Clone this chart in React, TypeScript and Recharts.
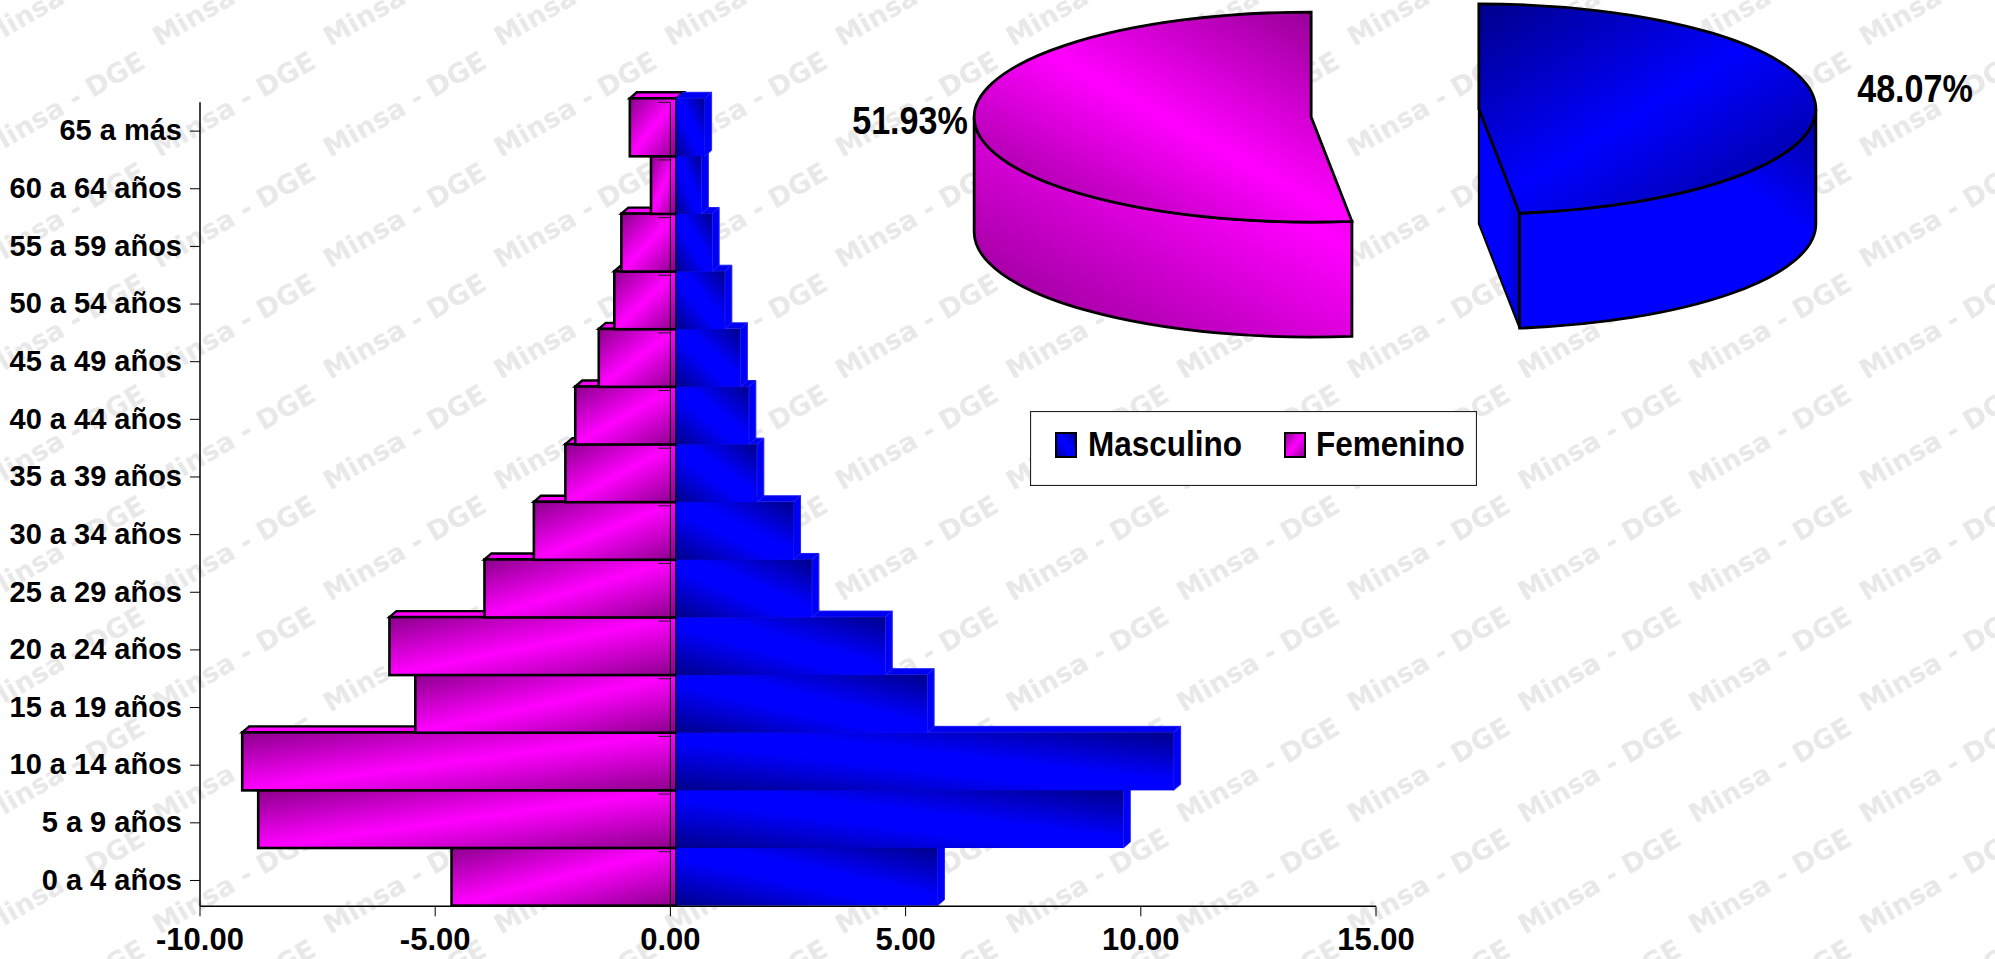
import React from 'react';
import {
  BarChart,
  Bar,
  XAxis,
  YAxis,
  Legend,
  ReferenceLine,
  ReferenceDot,
  PieChart,
  Pie,
} from 'recharts';

const WIDTH = 1995;
const HEIGHT = 959;
const FONT = '"Liberation Sans", Arial, sans-serif';

const ageGroups = [
  '0 a 4 años', '5 a 9 años', '10 a 14 años', '15 a 19 años', '20 a 24 años',
  '25 a 29 años', '30 a 34 años', '35 a 39 años', '40 a 44 años', '45 a 49 años',
  '50 a 54 años', '55 a 59 años', '60 a 64 años', '65 a más',
];
const masculino = [5.55, 9.5, 10.57, 5.33, 4.44, 2.88, 2.49, 1.71, 1.54, 1.36, 1.03, 0.76, 0.53, 0.6];
const femenino = [-4.78, -8.89, -9.23, -5.55, -6.1, -4.08, -3.03, -2.36, -2.15, -1.65, -1.32, -1.17, -0.54, -0.99];
const xTicks = [-10, -5, 0, 5, 10, 15];
const sexNames = ['Masculino', 'Femenino'];
const sexShares = [48.07, 51.93];

const pyramidData = ageGroups.map((age, i) => ({
  age,
  Masculino: masculino[i],
  Femenino: femenino[i],
}));
const pieData = sexNames.map((name, i) => ({ name, value: sexShares[i] }));

// fake 3D settings, the source is an old Excel chart
const FRONT_DX = 6;
const FRONT_DY = -4;
const DEPTH_X = 7;
const DEPTH_Y = -6;
const PIE_SQUASH = 105 / 337;
const PIE_DEPTH = 115;
const PIE_EXPLODE = 84;
const ZERO_TICK_UP = 28.8;
const NARROW = 0.875;

const pieLabelSpots: Record<string, { dx: number; dy: number }> = {
  Masculino: { dx: 520, dy: -24 },
  Femenino: { dx: -485, dy: 8 },
};
const legendSpots: Record<string, { swatch: number; text: number }> = {
  Masculino: { swatch: 26, text: 58 },
  Femenino: { swatch: 255, text: 286 },
};

const Bar3D = (props: any) => {
  const { x, y, width, height, side } = props;
  const left = Math.min(x, x + width) + FRONT_DX;
  const w = Math.abs(width);
  const top = y + FRONT_DY;
  const h = height;
  const pink = side === 'f';
  const topFace = `${left},${top} ${left + DEPTH_X},${top + DEPTH_Y} ${left + w + DEPTH_X},${top + DEPTH_Y} ${left + w},${top}`;
  const rightFace = `${left + w},${top} ${left + w + DEPTH_X},${top + DEPTH_Y} ${left + w + DEPTH_X},${top + h + DEPTH_Y} ${left + w},${top + h}`;
  if (pink) {
    return (
      <g>
        <polygon points={topFace} fill="#ff00ff" stroke="#000" strokeWidth={2.4} />
        <rect x={left} y={top} width={w} height={h} fill="url(#barPink)" stroke="#000" strokeWidth={2.6} />
      </g>
    );
  }
  return (
    <g>
      <polygon points={topFace} fill="#0000f0" stroke="#1a1aff" strokeWidth={1} />
      <polygon points={rightFace} fill="#0000f5" stroke="#2222ff" strokeWidth={1} />
      <rect x={left} y={top} width={w} height={h} fill="url(#barBlue)" />
    </g>
  );
};

const ZeroTick = (props: any) => {
  const { cx, cy } = props;
  return <line x1={cx - 12} x2={cx} y1={cy - ZERO_TICK_UP} y2={cy - ZERO_TICK_UP} stroke="#222" strokeWidth={1} />;
};

const Pie3D = (props: any) => {
  const { cx, cy, outerRadius, startAngle, endAngle, name } = props;
  const rad = Math.PI / 180;
  const mid = (startAngle + endAngle) / 2;
  const ox = cx + PIE_EXPLODE * Math.cos(mid * rad);
  const oy = cy - 0.8 * PIE_EXPLODE * Math.sin(mid * rad);
  const rx = outerRadius;
  const ry = outerRadius * PIE_SQUASH;
  const px = (a: number) => ox + rx * Math.cos(a * rad);
  const py = (a: number) => oy - ry * Math.sin(a * rad);
  const large = Math.abs(endAngle - startAngle) > 180 ? 1 : 0;
  const topPath = `M${ox},${oy} L${px(startAngle)},${py(startAngle)} A${rx},${ry} 0 ${large} 1 ${px(endAngle)},${py(endAngle)} Z`;
  // only the front half of the rim can be seen
  const hi = Math.min(startAngle, 0);
  const lo = Math.max(endAngle, -180);
  const sidePath = `M${px(hi)},${py(hi)} A${rx},${ry} 0 0 1 ${px(lo)},${py(lo)} L${px(lo)},${py(lo) + PIE_DEPTH} A${rx},${ry} 0 0 0 ${px(hi)},${py(hi) + PIE_DEPTH} Z`;
  const blue = name === 'Masculino';
  return (
    <g>
      {blue && (
        <polygon
          points={`${ox},${oy} ${px(endAngle)},${py(endAngle)} ${px(endAngle)},${py(endAngle) + PIE_DEPTH} ${ox},${oy + PIE_DEPTH}`}
          fill="url(#wallBlue)"
          stroke="#000"
          strokeWidth={2}
        />
      )}
      <path d={sidePath} fill={blue ? 'url(#sideBlue)' : 'url(#sidePink)'} stroke="#000" strokeWidth={2.8} />
      <path d={topPath} fill={blue ? 'url(#topBlue)' : 'url(#topPink)'} stroke="#000" strokeWidth={2.8} />
    </g>
  );
};

const PieLabel = (props: any) => {
  const { cx, cy, name, value } = props;
  const spot = pieLabelSpots[name];
  return (
    <text
      transform={`translate(${cx + spot.dx},${cy + spot.dy}) scale(${NARROW},1)`}
      textAnchor="middle"
      dominantBaseline="central"
      fontFamily={FONT}
      fontWeight="bold"
      fontSize={39}
      fill="#000"
    >
      {`${value.toFixed(2)}%`}
    </text>
  );
};

const LegendBox = (props: any) => (
  <svg width={447} height={75} style={{ display: 'block' }}>
    <rect x={0.5} y={0.5} width={446} height={74} fill="#fff" stroke="#222" strokeWidth={1.2} />
    {(props.payload || []).map((entry: any) => {
      const spot = legendSpots[entry.value];
      return (
        <g key={entry.value}>
          <rect
            x={spot.swatch}
            y={22}
            width={20}
            height={24}
            fill={entry.value === 'Masculino' ? 'url(#barBlue)' : 'url(#barPink)'}
            stroke="#000"
            strokeWidth={2}
          />
          <text
            transform={`translate(${spot.text},45) scale(${NARROW},1)`}
            fontFamily={FONT}
            fontWeight="bold"
            fontSize={36}
            fill="#000"
          >
            {entry.value}
          </text>
        </g>
      );
    })}
  </svg>
);

const Watermark = () => (
  <svg width={WIDTH} height={HEIGHT} style={{ position: 'absolute', left: 0, top: 0 }}>
    <defs>
      <pattern id="minsaTile" x={151.6} y={45} width={170.67} height={111} patternUnits="userSpaceOnUse">
        <text
          x={8}
          y={113}
          transform="rotate(-30 8 113)"
          fontFamily='"DejaVu Sans", sans-serif'
          fontWeight="bold"
          fontSize={27}
          fill="#e8e8e8"
        >
          Minsa - DGE
        </text>
      </pattern>
    </defs>
    <rect width={WIDTH} height={HEIGHT} fill="url(#minsaTile)" />
  </svg>
);

const grad = (id: string, x1: number, y1: number, x2: number, y2: number, stops: [number, string][]) => (
  <linearGradient id={id} x1={x1} y1={y1} x2={x2} y2={y2}>
    {stops.map(([o, c]) => (
      <stop key={o} offset={o} stopColor={c} />
    ))}
  </linearGradient>
);

const axisTick = { fill: '#000', fontFamily: FONT, fontWeight: 'bold' as const };

export default function App() {
  return (
    <div style={{ position: 'absolute', left: 0, top: 0, width: WIDTH, height: HEIGHT, background: '#fff', overflow: 'hidden' }}>
      <Watermark />

      <div style={{ position: 'absolute', left: 0, top: 0 }}>
        <BarChart
          width={WIDTH}
          height={HEIGHT}
          data={pyramidData}
          layout="vertical"
          stackOffset="sign"
          barCategoryGap={0}
          margin={{ top: 102.3, right: 619, bottom: 0, left: 0 }}
        >
          <defs>
            {grad('barPink', 0, 0, 1, 1, [[0, '#8b008b'], [0.5, '#ff00ff'], [1, '#8b008b']])}
            {grad('barBlue', 0, 1, 1, 0, [[0, '#00008b'], [0.42, '#0000ff'], [0.58, '#0000ff'], [1, '#00008b']])}
          </defs>
          <XAxis
            type="number"
            domain={[-10, 15]}
            ticks={xTicks}
            allowDataOverflow
            tickFormatter={(v: number) => v.toFixed(2)}
            height={52.7}
            tickSize={10}
            tickMargin={12}
            tick={{ ...axisTick, fontSize: 31 }}
            axisLine={{ stroke: '#000', strokeWidth: 1.5 }}
            tickLine={{ stroke: '#000', strokeWidth: 1 }}
            interval={0}
          />
          <YAxis
            type="category"
            dataKey="age"
            reversed
            width={200}
            interval={0}
            padding={{ top: 0, bottom: -3 }}
            tickSize={10}
            tickMargin={8}
            tick={{ ...axisTick, fontSize: 29, dy: -1 }}
            axisLine={{ stroke: '#000', strokeWidth: 1.5 }}
            tickLine={{ stroke: '#000', strokeWidth: 1 }}
          />
          <Bar
            dataKey="Femenino"
            stackId="sex"
            fill="#ff00ff"
            isAnimationActive={false}
            shape={(p: any) => <Bar3D {...p} side="f" />}
          />
          <Bar
            dataKey="Masculino"
            stackId="sex"
            fill="#0000ff"
            isAnimationActive={false}
            shape={(p: any) => <Bar3D {...p} side="m" />}
          />
          <ReferenceLine x={0} stroke="#000" strokeWidth={1} isFront />
          {ageGroups.map((age) => (
            <ReferenceDot key={age} x={0} y={age} isFront shape={ZeroTick} />
          ))}
          <Legend
            layout="vertical"
            align="center"
            verticalAlign="middle"
            wrapperStyle={{ left: 1030, top: 411, width: 447, height: 75 }}
            content={LegendBox}
          />
        </BarChart>
      </div>

      <div style={{ position: 'absolute', left: 0, top: 0, pointerEvents: 'none' }}>
        <PieChart width={WIDTH} height={HEIGHT} margin={{ top: 0, right: 0, bottom: 0, left: 0 }}>
          <defs>
            {grad('topPink', 1, 0, 0, 1, [[0, '#8b008b'], [0.5, '#ff00ff'], [1, '#8b008b']])}
            {grad('sidePink', 1, 0, 0, 1, [[0, '#b000b0'], [0.3, '#ff00ff'], [1, '#8b008b']])}
            {grad('topBlue', 0, 0, 1, 1, [[0, '#00008b'], [0.5, '#0000ff'], [1, '#00008b']])}
            {grad('sideBlue', 0, 1, 1, 0, [[0, '#0000ff'], [0.7, '#0000ff'], [1, '#00009c']])}
            {grad('wallBlue', 0, 0, 1, 0, [[0, '#0000ff'], [0.7, '#0000ff'], [1, '#0000c0']])}
          </defs>
          <Pie
            data={pieData}
            dataKey="value"
            nameKey="name"
            cx={1395}
            cy={113}
            innerRadius={0}
            outerRadius={337}
            startAngle={90}
            endAngle={-270}
            isAnimationActive={false}
            shape={Pie3D}
            label={PieLabel}
            labelLine={false}
          />
        </PieChart>
      </div>
    </div>
  );
}
